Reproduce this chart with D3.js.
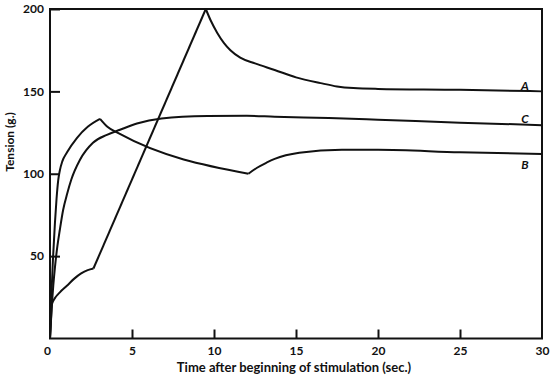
<!DOCTYPE html>
<html>
<head>
<meta charset="utf-8">
<script src="https://cdn.jsdelivr.net/npm/d3@7"></script>
<style>
  body { margin: 0; background: #fff; }
  text { font-family: Lato, "Open Sans", sans-serif; font-weight: 700; fill: #111; }
</style>
</head>
<body>
<svg id="chart" width="550" height="378"></svg>
<script>
const svg = d3.select("#chart");

// tick values
const xTicks = [0, 5, 10, 15, 20, 25, 30];
const yTicks = [50, 100, 150, 200];

// each curve is split into pieces at its sharp corners: [time (s), tension (g)]
const curveA = [
  [[0, 0], [0.06, 12], [0.12, 21], [0.3, 24.5], [0.6, 28], [1.03, 32], [1.5, 36.5], [1.9, 39.5], [2.3, 41.5], [2.65, 42.5]],
  [[2.65, 42.5], [9.5, 200]],
  [[9.5, 200], [9.8, 193], [10.2, 185.5], [10.6, 179.5], [11, 175], [11.6, 170.5], [12.5, 167], [13.7, 163], [15, 158.5], [16.5, 155], [17.5, 153], [18.5, 152], [20, 151.5], [25, 151], [30, 150]]
];
const curveB = [
  [[0, 0], [0.08, 25], [0.18, 48], [0.3, 70], [0.4, 85], [0.5, 96], [0.6, 102], [0.75, 107.5], [1.04, 113], [1.65, 121.8], [2.3, 128.5], [3.05, 133.3]],
  [[3.05, 133.3], [3.5, 128.5], [4.2, 124.5], [12.1, 100]],
  [[12.1, 100], [12.6, 103.5], [13.2, 106.7], [13.7, 109], [15.2, 112.7], [17.8, 114.5], [20, 114.5], [25, 113], [30, 112]]
];
const curveC = [
  [[0, 0], [0.1, 18], [0.2, 32], [0.3, 43], [0.45, 56], [0.6, 66], [0.8, 78], [1.05, 88], [1.3, 96.5], [1.83, 108.5], [2.62, 118.8], [3.47, 123.6], [4.27, 126.7], [5.3, 130.5], [6.8, 133.5], [9.6, 135], [12, 135.2], [13.7, 134.6], [17, 133.8], [20, 132.8], [25, 131], [30, 129.5]]
];
const curveNames = ["A", "B", "C"];
const curveLabelAt = [151, 103, 131];  // tension at the label baseline

const x = d3.scaleLinear().domain([0, 30]).range([50, 542]);
const y = d3.scaleLinear().domain([0, 200]).range([338.5, 9]);

// frame
svg.append("rect")
  .attr("x", x(0)).attr("y", y(200))
  .attr("width", x(30) - x(0)).attr("height", y(0) - y(200))
  .attr("fill", "none").attr("stroke", "#111").attr("stroke-width", 2);

// axes
const xAxis = svg.append("g").attr("transform", `translate(0,${y(0)})`)
  .call(d3.axisBottom(x).tickValues(xTicks).tickSizeInner(-9).tickSizeOuter(0).tickPadding(8));
const yAxis = svg.append("g").attr("transform", `translate(${x(0)},0)`)
  .call(d3.axisLeft(y).tickValues(yTicks).tickSizeInner(-10).tickSizeOuter(0).tickPadding(6));
[xAxis, yAxis].forEach(g => {
  g.select(".domain").remove();
  g.selectAll("line").attr("stroke", "#111").attr("stroke-width", 2);
  g.selectAll("text").attr("font-size", 12).attr("font-family", "Lato, sans-serif").attr("font-weight", 700);
});
xAxis.selectAll(".tick line").filter(d => d === 0 || d === 30).remove();
xAxis.selectAll(".tick text").filter(d => d === 0).attr("dx", -3);

// curves
const line = d3.line().x(d => x(d[0])).y(d => y(d[1])).curve(d3.curveMonotoneX);
[curveA, curveB, curveC].forEach(pieces => {
  pieces.forEach(p => {
    svg.append("path").attr("d", line(p))
      .attr("fill", "none").attr("stroke", "#111").attr("stroke-width", 2)
      .attr("stroke-linejoin", "round");
  });
});

// labels at line ends
svg.selectAll(".lbl").data(curveNames).join("text")
  .attr("class", "lbl")
  .attr("x", 525)
  .attr("y", (d, i) => y(curveLabelAt[i]))
  .attr("font-size", 12).attr("font-style", "italic")
  .attr("text-anchor", "middle")
  .text(d => d);

// axis titles
svg.append("text").attr("x", 294).attr("y", 372).attr("text-anchor", "middle")
  .attr("font-size", 13).text("Time after beginning of stimulation (sec.)");
svg.append("text").attr("transform", "translate(14,142) rotate(-90)").attr("text-anchor", "middle")
  .attr("font-size", 12).text("Tension (g.)");
</script>
</body>
</html>
